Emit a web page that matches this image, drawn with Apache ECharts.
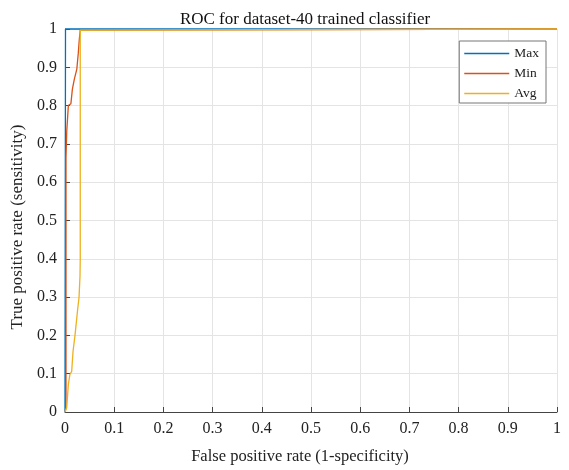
<!DOCTYPE html>
<html><head><meta charset="utf-8">
<script src="https://cdn.jsdelivr.net/npm/echarts@6/dist/echarts.min.js"></script>
<style>html,body{margin:0;padding:0;background:#fff}#c{width:569px;height:470px}</style>
</head><body><div id="c"></div>
<script>
const titleText = "ROC for dataset-40 trained classifier";
const xLabel = "False positive rate (1-specificity)";
const yLabel = "True positive rate (sensitivity)";
const seriesNames = ["Max", "Min", "Avg"];

const maxFPR = [0, 0.001, 1];
const maxTPR = [0, 1, 1];

const minFPR = [0, 0.002, 0.002, 0.0035, 0.0068, 0.012, 0.015, 0.019, 0.024, 0.027, 0.029, 0.031, 1];
const minTPR = [0, 0.01, 0.663, 0.732, 0.80, 0.805, 0.843, 0.869, 0.895, 0.937, 0.972, 0.997, 1];

const avgFPR = [0, 0.002, 0.0035, 0.0068, 0.010, 0.0136, 0.0163, 0.0203, 0.0224, 0.0258, 0.0285, 0.0305, 0.031, 0.031, 1];
const avgTPR = [0, 0.003, 0.012, 0.072, 0.098, 0.106, 0.158, 0.20, 0.226, 0.269, 0.299, 0.355, 0.40, 0.997, 1];

const colors = ["#0072BD", "#D95319", "#EDB120"];
const font = "Liberation Serif";

function pairs(xs, ys){ return xs.map((x,i)=>[x, ys[i]]); }
const allData = [pairs(maxFPR,maxTPR), pairs(minFPR,minTPR), pairs(avgFPR,avgTPR)];

const chart = echarts.init(document.getElementById('c'), null, {renderer:'canvas'});
chart.setOption({
  animation:false,
  backgroundColor:'#fff',
  title:{text:titleText, left:300, textAlign:'center', top:6,
    textStyle:{fontFamily:font, fontSize:17, fontWeight:'normal', color:'#111'}},
  grid:{left:65, right:12, top:29, bottom:52, containLabel:false},
  legend:{orient:'vertical', right:23, top:41, data:seriesNames,
    icon:'rect', itemWidth:45, itemHeight:1.5, itemGap:5,
    padding:[5,7,2,5], borderColor:'#777', borderWidth:1, backgroundColor:'#fff',
    textStyle:{fontFamily:font, fontSize:13.5, color:'#222', lineHeight:15}},
  xAxis:{type:'value', min:0, max:1, interval:0.1,
    name:xLabel, nameLocation:'middle', nameGap:36,
    nameTextStyle:{fontFamily:font, fontSize:16.5, color:'#222', padding:[0,22,0,0]},
    axisLine:{show:true, onZero:false, lineStyle:{color:'#444', width:1}},
    axisTick:{show:true, inside:true, length:5, lineStyle:{color:'#444'}},
    axisLabel:{fontFamily:font, fontSize:16, color:'#222', margin:9,
      formatter:v=>String(Math.round(v*10)/10)},
    splitLine:{show:true, lineStyle:{color:'#e4e4e4', width:1}}},
  yAxis:{type:'value', min:0, max:1, interval:0.1,
    name:yLabel, nameLocation:'middle', nameGap:32, nameRotate:90,
    nameTextStyle:{fontFamily:font, fontSize:17, color:'#222', padding:[0,13,0,0]},
    axisLine:{show:true, onZero:false, lineStyle:{color:'#444', width:1}},
    axisTick:{show:true, inside:true, length:5, lineStyle:{color:'#444'}},
    axisLabel:{fontFamily:font, fontSize:16, color:'#222', margin:8,
      formatter:v=>String(Math.round(v*10)/10)},
    splitLine:{show:true, lineStyle:{color:'#e4e4e4', width:1}}},
  series: seriesNames.map((n,i)=>({
    name:n, type:'line', data:allData[i], showSymbol:false, symbol:'none',
    color:colors[i], lineStyle:{color:colors[i], width:1.3}, clip:false
  }))
});
</script></body></html>
